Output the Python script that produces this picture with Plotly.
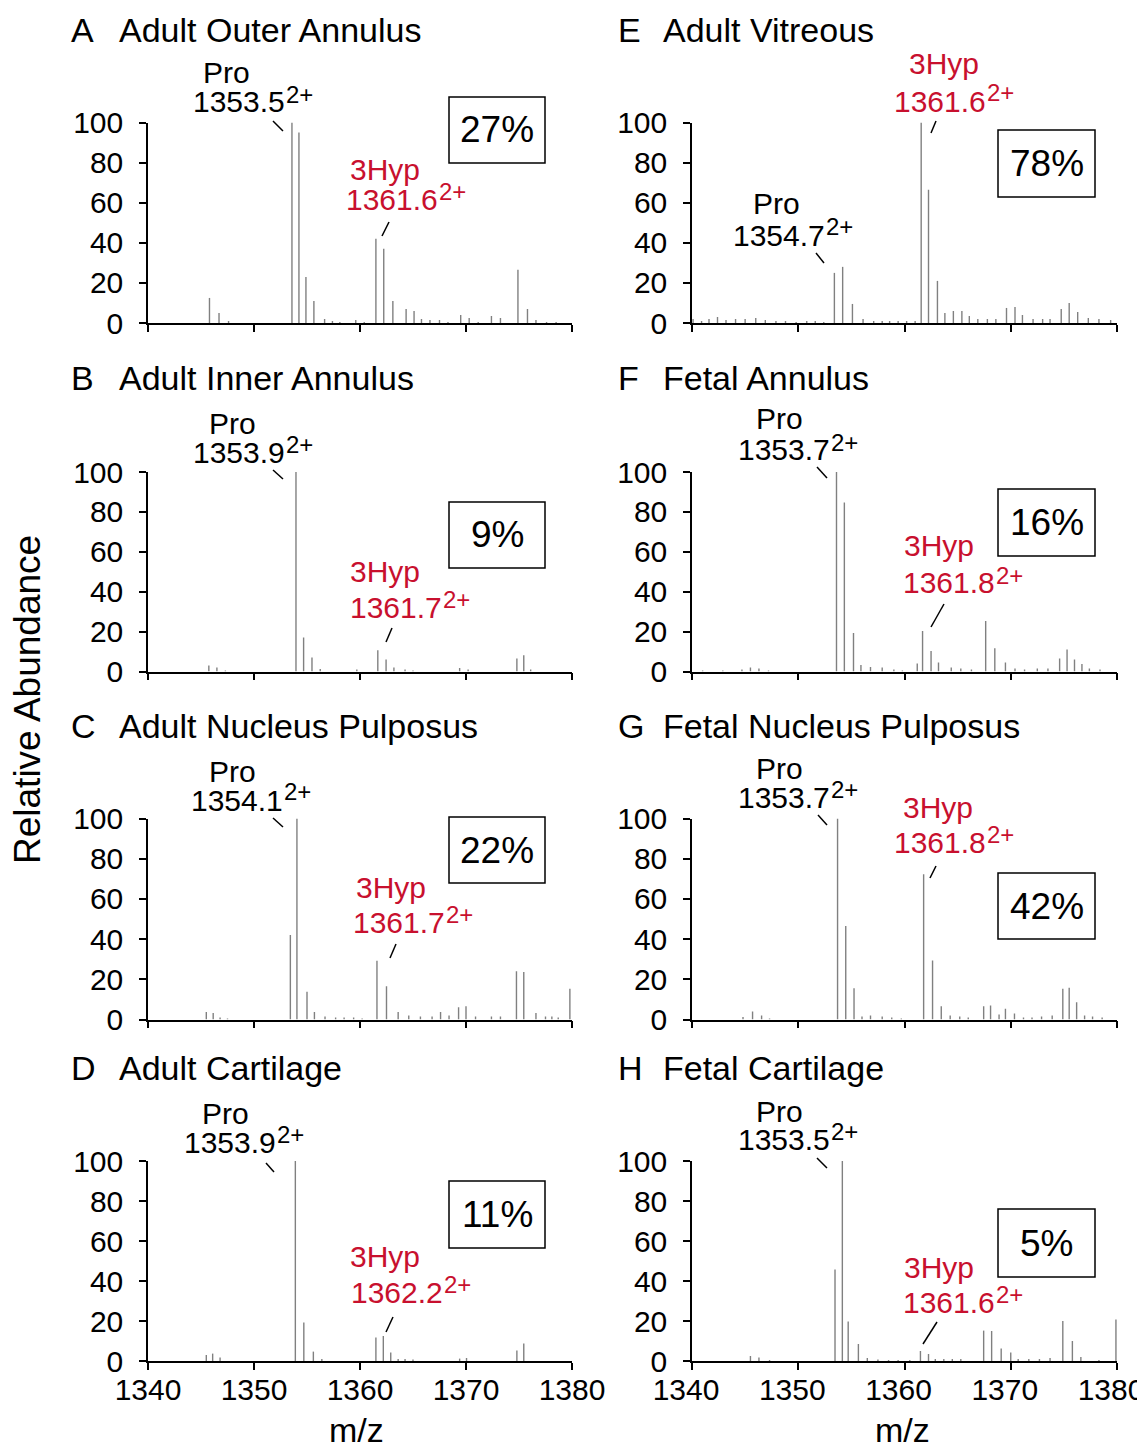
import plotly.graph_objects as go

W, H = 1145, 1449
OFF = 8  # page body margin: the figure is drawn 8px right/down of the window corner

# ---------------- data (m/z, relative abundance) ----------------
A_mz = [1345.8, 1346.7, 1347.6, 1353.58, 1354.24, 1354.9, 1355.65, 1356.66, 1357.4, 1358.1, 1359.6, 1360.4,
        1361.5, 1362.24, 1363.1, 1364.35, 1365.1, 1365.8, 1366.6, 1367.5, 1368.3, 1369.5, 1370.3, 1371.15,
        1372.4, 1373.25, 1374.9, 1375.8, 1376.6, 1377.6, 1378.5]
A_int = [12.5, 5, 1, 100, 95, 23, 11, 2, 1, 0.5, 1.5, 0.5,
         42, 37, 11, 7, 6, 2, 1.5, 1.5, 0.5, 4, 2.5, 0.5,
         3.5, 2.5, 26.5, 7, 1.5, 0.5, 0.5]

B_mz = [1345.74, 1346.5, 1347.3, 1353.96, 1354.68, 1355.47, 1356.25, 1359.7, 1361.68, 1362.46, 1363.2,
        1364.25, 1365.0, 1369.4, 1370.2, 1374.8, 1375.45, 1376.1]
B_int = [3, 2, 0.5, 100, 17, 7, 1.2, 1, 10.7, 6, 2,
         1, 0.5, 1.7, 1, 6.5, 8.2, 1]

C_mz = [1345.5, 1346.15, 1346.8, 1347.5, 1353.43, 1354.05, 1355.0, 1355.7, 1356.7, 1357.7, 1358.5, 1359.4,
        1360.2, 1361.6, 1362.5, 1363.6, 1364.6, 1365.7, 1366.8, 1367.6, 1368.4, 1369.3, 1370.0, 1370.9,
        1372.4, 1373.25, 1374.76, 1375.45, 1376.6, 1377.5, 1378.1, 1378.7, 1379.8]
C_int = [3.7, 3.2, 1, 0.5, 42, 100, 13.8, 3.7, 1.5, 1, 1, 1,
         0.5, 29.2, 16.6, 3.7, 2, 1.5, 1.5, 3.7, 2, 6.1, 6.6, 1.5,
         1.5, 1.5, 24, 23.6, 3.2, 1.5, 1.5, 1, 15.3]

D_mz = [1345.5, 1346.1, 1346.8, 1353.9, 1354.7, 1355.6, 1356.4, 1361.5, 1362.2, 1362.9, 1363.6, 1364.25,
        1365.0, 1369.4, 1370.05, 1374.8, 1375.45]
D_int = [3, 3.7, 1.7, 100, 19.2, 4.7, 1, 11.7, 12.5, 4.2, 1, 1,
         0.7, 1.2, 1.5, 5.2, 8.8]

E_mz = [1340.1, 1340.9, 1341.6, 1342.4, 1343.2, 1344.1, 1345.0, 1346.0, 1346.9, 1347.9, 1348.8, 1349.8,
        1350.8, 1351.6, 1352.4, 1353.4, 1354.18, 1355.1, 1356.1, 1357.1, 1357.9, 1358.6, 1359.4, 1360.2,
        1361.0, 1361.57, 1362.26, 1363.1, 1363.8, 1364.6, 1365.4, 1366.1, 1366.9, 1367.8, 1368.6, 1369.6,
        1370.4, 1371.1, 1372.1, 1373.0, 1373.7, 1374.75, 1375.5, 1376.3, 1377.3, 1378.3, 1379.4]
E_int = [2, 1, 2, 3, 1.5, 2, 2, 2.5, 1.5, 1, 1, 0.5,
         1, 1, 0.5, 25, 28, 9.5, 2, 1, 1, 1, 1, 1,
         1, 100, 66.5, 21, 5, 6, 6, 3.5, 2, 2, 2, 7.5,
         8, 4, 2, 2, 2, 7, 10, 5.5, 2.5, 2, 1.5]

F_mz = [1341.0, 1342.9, 1344.7, 1345.5, 1346.3, 1347.2, 1353.6, 1354.34, 1355.2, 1355.9, 1356.8, 1357.9,
        1359.0, 1359.8, 1361.2, 1361.7, 1362.5, 1363.2, 1364.4, 1365.3, 1366.3, 1367.64, 1368.5, 1369.5,
        1370.4, 1371.3, 1372.5, 1373.5, 1374.6, 1375.3, 1376.0, 1376.7, 1377.4, 1378.4]
F_int = [0.5, 0.5, 1, 2, 1.5, 0.5, 100, 84.7, 19.3, 3.2, 2.3, 2,
         1, 0.5, 4, 20.3, 10.3, 4.5, 2, 1.5, 1, 25.3, 11.6, 4.5,
         1.5, 1, 1.5, 1.5, 6.5, 11, 6, 3.7, 1.5, 1]

G_mz = [1344.8, 1345.7, 1346.55, 1347.3, 1353.7, 1354.47, 1355.25, 1356.0, 1356.8, 1357.9, 1358.8, 1359.7,
        1361.8, 1362.64, 1363.46, 1364.3, 1365.2, 1366.0, 1367.45, 1368.1, 1368.9, 1369.5, 1370.35, 1371.2,
        1372.0, 1372.9, 1373.9, 1374.9, 1375.5, 1376.2, 1376.95, 1377.7, 1378.6]
G_int = [1.3, 4, 2, 0.5, 100, 46.5, 15.6, 1.5, 2, 1.5, 1, 0.5,
         72.3, 29.4, 6.6, 2, 1.5, 1, 6.6, 7, 2.5, 5.3, 3, 1,
         1, 1.5, 2, 15.3, 15.8, 8.6, 2, 1.5, 1]

H_mz = [1345.5, 1346.3, 1347.3, 1353.46, 1354.15, 1354.7, 1355.66, 1356.5, 1357.5, 1358.5, 1359.4, 1360.5,
        1361.5, 1362.26, 1362.9, 1363.7, 1364.5, 1365.3, 1367.45, 1368.2, 1369.1, 1370.0, 1370.7, 1371.7,
        1372.7, 1373.7, 1374.9, 1375.8, 1376.6, 1378.3, 1379.9]
H_int = [2.5, 1.8, 0.5, 45.8, 100, 19.7, 8.5, 1.5, 0.7, 0.5, 0.5, 0.5,
         5, 3.5, 1, 1, 1, 1, 15.2, 15, 6.3, 4.2, 1, 1,
         1, 1.5, 20, 10, 2, 0.5, 20.8]

panel_letters = ["A", "B", "C", "D", "E", "F", "G", "H"]
panel_names = ["Adult Outer Annulus", "Adult Inner Annulus", "Adult Nucleus Pulposus", "Adult Cartilage",
               "Adult Vitreous", "Fetal Annulus", "Fetal Nucleus Pulposus", "Fetal Cartilage"]
pro_labels = ["1353.5", "1353.9", "1354.1", "1353.9", "1354.7", "1353.7", "1353.7", "1353.5"]
hyp_labels = ["1361.6", "1361.7", "1361.7", "1362.2", "1361.6", "1361.8", "1361.8", "1361.6"]
charge_label = "2+"
pct_labels = ["27%", "9%", "22%", "11%", "78%", "16%", "42%", "5%"]
series_mz = [A_mz, B_mz, C_mz, D_mz, E_mz, F_mz, G_mz, H_mz]
series_int = [A_int, B_int, C_int, D_int, E_int, F_int, G_int, H_int]

x_ticks = [1340, 1350, 1360, 1370, 1380]
y_ticks = [0, 20, 40, 60, 80, 100]

# ---------------- layout geometry (window pixels) ----------------
col_x = [(148, 572), (692, 1117)]                       # plot left/right edges
row_y = [(122.5, 323), (472, 671.5), (818.5, 1019.5), (1161, 1361)]  # y of 100 / y of 0
title_y = [30, 378, 726, 1068]
letter_x = [70, 617]
name_x = [118, 662]
xlabel_shift = [0, -6]

pro_word = [(226, 73), (232, 424), (232, 771), (225, 1113), (777, 203), (779, 418), (779, 768), (779, 1111)]
pro_num = [(192, 102), (192, 452), (190, 800), (183, 1142), (732, 235), (737, 450), (737, 797), (737, 1139)]
hyp_word = [(385, 167), (385, 570), (391, 885), (385, 1254), (944, 61), (939, 543), (938, 805), (939, 1265)]
hyp_num = [(345, 199), (349, 607), (352, 922), (350, 1292), (893, 101), (902, 583), (893, 842), (902, 1302)]
pro_lead = [((273, 121), (283, 131)), ((273, 470), (283, 479)), ((273, 818), (283, 827)), ((266, 1163), (274, 1172)),
            ((816, 253), (824, 263)), ((817, 467), (827, 478)), ((818, 815), (827, 825)), ((817, 1158), (827, 1168))]
hyp_lead = [((382, 236), (389, 222)), ((386, 642), (392, 628)), ((390, 958), (396, 944)), ((386, 1332), (393, 1317)),
            ((931, 133), (936, 121)), ((931, 627), (944, 604)), ((930, 878), (936, 866)), ((923, 1344), (937, 1322))]
pct_box = [(449, 545, 97, 163), (449, 545, 502, 568), (449, 545, 817, 883), (449, 545, 1181, 1248),
           (998, 1095, 130, 197), (998, 1095, 489, 556), (998, 1095, 873, 939), (998, 1095, 1209, 1277)]

FONT = "Liberation Sans, Arial, Helvetica, sans-serif"
RED = "#c8102e"
PEAK = "#808080"
NUM_SIZE = 30
NUM_W = 91.7      # rendered width of a "1353.5"-style label at NUM_SIZE


def px(x):
    return (x - OFF) / W


def py(y):
    return 1 - (y - OFF) / H


def label(x, y, text, size, color="black", xanchor="center", angle=0):
    return dict(x=px(x), y=py(y), xref="paper", yref="paper", text=text, showarrow=False,
                xanchor=xanchor, yanchor="middle", textangle=angle, borderpad=0,
                font=dict(family=FONT, size=size, color=color))


fig = go.Figure()
annotations = []
shapes = []

for i in range(8):
    col, row = i // 4, i % 4
    n = i + 1
    sfx = str(n) if n > 1 else ""
    xs, ys = [], []
    for m, v in zip(series_mz[i], series_int[i]):
        xs += [m, m, None]
        ys += [0, v, None]
    fig.add_trace(go.Scatter(x=xs, y=ys, mode="lines", line=dict(color=PEAK, width=1.4),
                             hoverinfo="skip", showlegend=False,
                             xaxis=f"x{sfx}", yaxis=f"y{sfx}"))
    x0, x1 = col_x[col]
    y100, y0 = row_y[row]
    xa = dict(domain=[px(x0), px(x1)], range=[1340, 1380], tickvals=x_ticks,
              showticklabels=(row == 3), ticks="outside", ticklen=7, tickwidth=1.5, tickcolor="black",
              showline=True, linecolor="black", linewidth=1.5, showgrid=False, zeroline=False,
              anchor=f"y{sfx}", automargin=False, ticklabelstandoff=-6, ticklabelshift=xlabel_shift[col],
              ticklabeloverflow="allow",
              tickfont=dict(family=FONT, size=30, color="black"))
    ya = dict(domain=[py(y0), py(y100)], range=[0, 100], tickvals=y_ticks,
              ticks="outside", ticklen=7, tickwidth=1.5, tickcolor="black",
              showline=True, linecolor="black", linewidth=1.5, showgrid=False, zeroline=False,
              anchor=f"x{sfx}", automargin=False, ticklabelstandoff=10,
              tickfont=dict(family=FONT, size=30, color="black"))
    fig.update_layout(**{f"xaxis{sfx}": xa, f"yaxis{sfx}": ya})

    # titles
    annotations.append(label(letter_x[col], title_y[row], panel_letters[i], 34, xanchor="left"))
    annotations.append(label(name_x[col], title_y[row], panel_names[i], 34, xanchor="left"))
    # Pro label
    annotations.append(label(pro_word[i][0], pro_word[i][1], "Pro", 30))
    annotations.append(label(pro_num[i][0], pro_num[i][1], pro_labels[i], NUM_SIZE, xanchor="left"))
    annotations.append(label(pro_num[i][0] + NUM_W + 1, pro_num[i][1] - 8, charge_label, 24, xanchor="left"))
    # 3Hyp label
    annotations.append(label(hyp_word[i][0], hyp_word[i][1] + 2, "3Hyp", 30, RED))
    annotations.append(label(hyp_num[i][0], hyp_num[i][1], hyp_labels[i], NUM_SIZE, RED, xanchor="left"))
    annotations.append(label(hyp_num[i][0] + NUM_W + 1, hyp_num[i][1] - 8, charge_label, 24, RED, xanchor="left"))
    # leader lines
    for (a, b) in (pro_lead[i], hyp_lead[i]):
        shapes.append(dict(type="line", xref="paper", yref="paper", x0=px(a[0]), y0=py(a[1]),
                           x1=px(b[0]), y1=py(b[1]), line=dict(color="black", width=1.5)))
    # percentage box
    bx0, bx1, by0, by1 = pct_box[i]
    shapes.append(dict(type="rect", xref="paper", yref="paper", x0=px(bx0), x1=px(bx1),
                       y0=py(by1), y1=py(by0), line=dict(color="black", width=1.5)))
    annotations.append(label((bx0 + bx1) / 2, (by0 + by1) / 2, pct_labels[i], 37))

# axis titles
annotations.append(label(27, 700, "Relative Abundance", 37, angle=-90))
for cx in (356, 902):
    annotations.append(label(cx, 1430, "m/z", 34))

fig.update_layout(width=W, height=H, margin=dict(l=0, r=0, t=0, b=0, autoexpand=False),
                  paper_bgcolor="white", plot_bgcolor="white",
                  annotations=annotations, shapes=shapes, showlegend=False)

fig.write_html("out.html")
